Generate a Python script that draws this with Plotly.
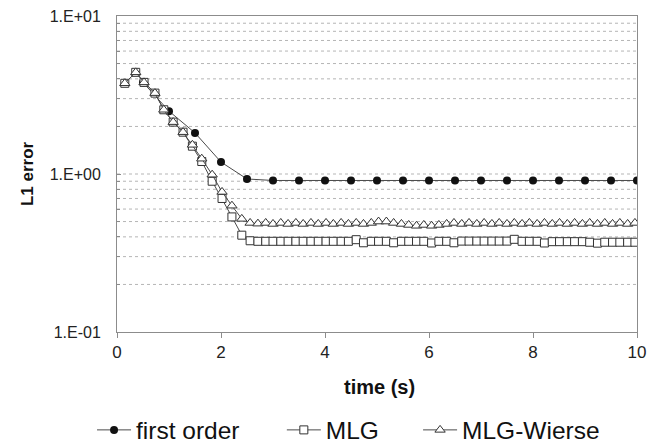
import plotly.graph_objects as go

# ---- data ----
first_t = [0.5, 1.0, 1.5, 2.0, 2.5, 3.0, 3.5, 4.0, 4.5, 5.0, 5.5, 6.0, 6.5,
           7.0, 7.5, 8.0, 8.5, 9.0, 9.5, 10.0]
first_v = [3.8, 2.5, 1.82, 1.19, 0.93, 0.91, 0.91, 0.91, 0.91, 0.91, 0.91,
           0.91, 0.91, 0.91, 0.91, 0.91, 0.91, 0.91, 0.91, 0.91]

mlg_t = [0.15, 0.36, 0.52, 0.73, 0.90, 1.08, 1.27, 1.45, 1.63, 1.83, 2.02,
         2.21, 2.40, 2.56, 2.71, 2.86, 3.00, 3.15, 3.29, 3.44, 3.58, 3.73,
         3.87, 4.02, 4.16, 4.31, 4.45, 4.60, 4.74, 4.89, 5.03, 5.18, 5.32,
         5.47, 5.61, 5.76, 5.90, 6.05, 6.19, 6.34, 6.48, 6.63, 6.77, 6.92,
         7.06, 7.21, 7.35, 7.50, 7.64, 7.79, 7.93, 8.08, 8.22, 8.37, 8.51,
         8.66, 8.80, 8.95, 9.09, 9.24, 9.38, 9.53, 9.67, 9.82, 9.96]

mlg_v = [3.75, 4.40, 3.80, 3.25, 2.55, 2.13, 1.84, 1.50, 1.20, 0.90, 0.70,
         0.535, 0.41, 0.378, 0.375, 0.375, 0.375, 0.375, 0.375, 0.375, 0.375,
         0.375, 0.375, 0.375, 0.375, 0.375, 0.375, 0.384, 0.367, 0.375,
         0.375, 0.375, 0.367, 0.375, 0.375, 0.375, 0.375, 0.366, 0.375,
         0.375, 0.367, 0.376, 0.376, 0.376, 0.376, 0.376, 0.376, 0.376,
         0.386, 0.375, 0.375, 0.375, 0.366, 0.373, 0.373, 0.373, 0.373,
         0.373, 0.370, 0.365, 0.370, 0.370, 0.370, 0.370, 0.370]

wierse_t = mlg_t
wierse_v = [3.75, 4.40, 3.80, 3.25, 2.55, 2.13, 1.84, 1.53, 1.25, 0.99, 0.77,
            0.63, 0.52, 0.49, 0.485, 0.490, 0.483, 0.490, 0.483, 0.490, 0.483,
            0.490, 0.483, 0.490, 0.483, 0.490, 0.483, 0.490, 0.483, 0.490,
            0.500, 0.500, 0.490, 0.483, 0.476, 0.470, 0.476, 0.470, 0.476,
            0.483, 0.490, 0.483, 0.490, 0.483, 0.490, 0.483, 0.490, 0.483,
            0.490, 0.483, 0.490, 0.483, 0.490, 0.483, 0.490, 0.483, 0.490,
            0.483, 0.490, 0.483, 0.490, 0.483, 0.490, 0.483, 0.490]

x_ticks = [0, 2, 4, 6, 8, 10]
y_ticks = [0.1, 1, 10]
y_tick_labels = ["1.E-01", "1.E+00", "1.E+01"]
y_grid = [0.2, 0.3, 0.4, 0.5, 0.6, 0.7, 0.8, 0.9, 1,
          2, 3, 4, 5, 6, 7, 8, 9]

FONT = "Liberation Sans, Arial, sans-serif"
LINE = "#4a4a4a"
AXIS = "#8c8c8c"

fig = go.Figure()
fig.add_trace(go.Scatter(
    x=first_t, y=first_v, name="first order", mode="lines+markers",
    line=dict(color=LINE, width=1),
    marker=dict(symbol="circle", size=8, color="#111111",
                line=dict(color="#111111", width=0)),
    legend="legend"))
fig.add_trace(go.Scatter(
    x=mlg_t, y=mlg_v, name="MLG", mode="lines+markers",
    line=dict(color=LINE, width=1),
    marker=dict(symbol="square", size=8, color="white",
                line=dict(color="#333333", width=1)),
    legend="legend2"))
fig.add_trace(go.Scatter(
    x=wierse_t, y=wierse_v, name="MLG-Wierse", mode="lines+markers",
    line=dict(color=LINE, width=1),
    marker=dict(symbol="triangle-up", size=9, color="white",
                line=dict(color="#333333", width=1)),
    legend="legend3"))

# dashed horizontal grid lines drawn as shapes in data coordinates
for g in y_grid:
    fig.add_shape(type="line", xref="paper", yref="y", x0=0, x1=1, y0=g, y1=g,
                  line=dict(color="#b5b5b5", width=1, dash="3px,3px"),
                  layer="below")

leg_common = dict(orientation="h", yanchor="middle", y=-0.31, xanchor="left",
                  font=dict(family=FONT, size=24.5, color="#111111"),
                  bgcolor="rgba(0,0,0,0)", borderwidth=0, itemwidth=34)

fig.update_layout(
    width=648, height=444,
    margin=dict(l=117, r=11, t=16, b=112, autoexpand=False),
    paper_bgcolor="white", plot_bgcolor="white",
    showlegend=True,
    legend=dict(x=-0.048, **leg_common),
    legend2=dict(x=0.317, **leg_common),
    legend3=dict(x=0.579, **leg_common),
    xaxis=dict(range=[0, 10], tickvals=x_ticks, ticks="outside", ticklen=5,
               tickcolor=AXIS, showline=True, linecolor=AXIS, linewidth=1,
               mirror=True, showgrid=False, zeroline=False, automargin=False,
               tickfont=dict(family=FONT, size=17, color="#222222")),
    yaxis=dict(type="log", range=[-1, 1], tickvals=y_ticks,
               ticktext=y_tick_labels, ticks="inside", ticklen=4,
               tickcolor=AXIS, showline=True, linecolor=AXIS, linewidth=1,
               mirror=True, showgrid=False, zeroline=False, automargin=False,
               ticklabelstandoff=12,
               minor=dict(tickvals=y_grid, ticks="inside", ticklen=3,
                          tickcolor=AXIS, showgrid=False),
               tickfont=dict(family=FONT, size=16, color="#222222")),
    annotations=[
        dict(text="<b>time (s)</b>", xref="paper", yref="paper", x=0.505,
             y=-0.174, xanchor="center", yanchor="middle", showarrow=False,
             font=dict(family=FONT, size=20, color="#111111")),
        dict(text="<b>L1 error</b>", xref="paper", yref="paper", x=-0.173,
             y=0.5, xanchor="center", yanchor="middle", showarrow=False,
             textangle=-90,
             font=dict(family=FONT, size=17, color="#111111")),
    ],
)

fig.write_html("out.html")
